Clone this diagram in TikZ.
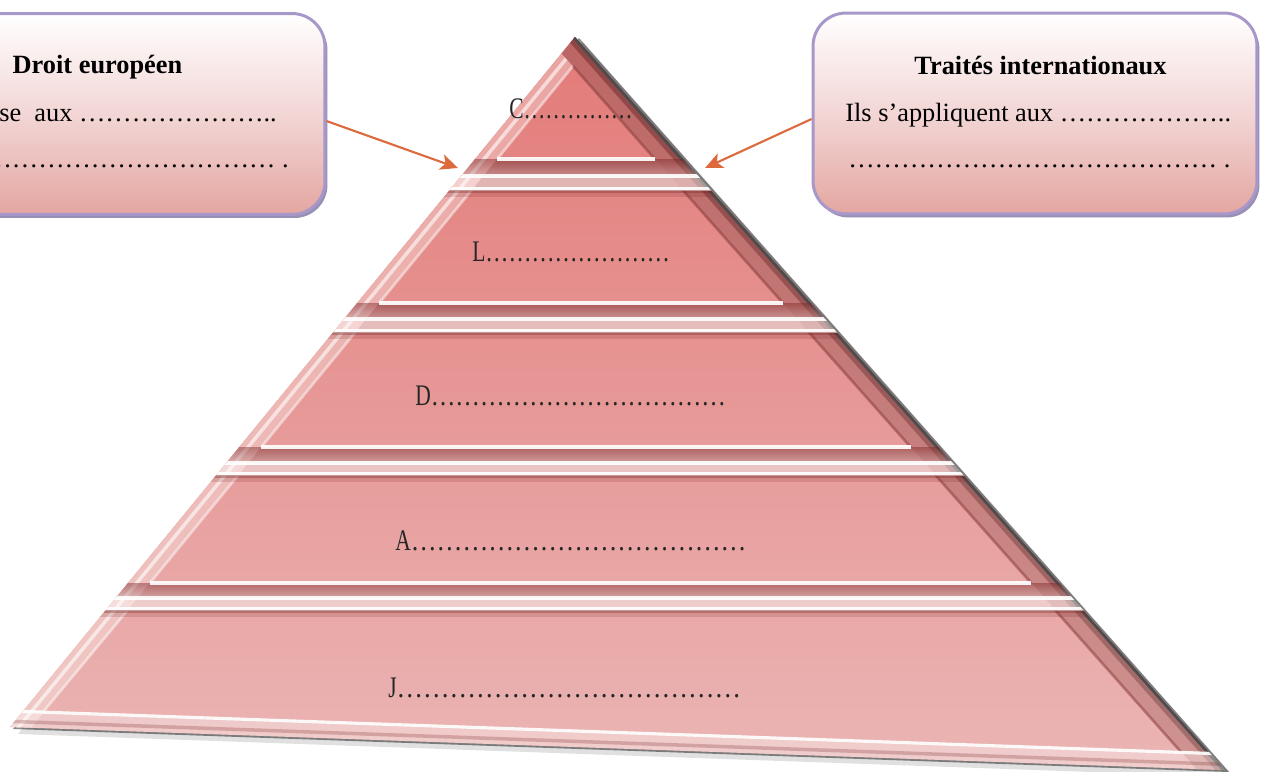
\documentclass[tikz,border=0pt]{standalone}
\usepackage{fontspec}
\setmainfont{Liberation Serif}
\usepackage{graphicx}
\usetikzlibrary{arrows.meta,shadows,calc}
\definecolor{arrowc}{HTML}{DC6A3C}
\definecolor{boxborder}{HTML}{A898C9}
\definecolor{boxshadow}{HTML}{9790B4}
\definecolor{boxbottom}{HTML}{E4A6A1}
\definecolor{boxmid}{HTML}{F2D6D5}
\definecolor{facetop}{HTML}{E37D7B}
\definecolor{facebot}{HTML}{EAB4B3}
\definecolor{lbevtop}{HTML}{EAA3A0}
\definecolor{lbevbot}{HTML}{F0CDCA}
\definecolor{rbevtop}{HTML}{BC6664}
\definecolor{rbevbot}{HTML}{CF9593}
\definecolor{rdarktop}{HTML}{914545}
\definecolor{rdarkbot}{HTML}{A5716F}
\definecolor{moulddark}{HTML}{7A2424}
\definecolor{facerim}{HTML}{8A3C3C}
\newcommand\ellip[1]{\foreach \k in {1,...,#1}{…}}
\newcommand\pyrlabel[4]{\scalebox{.72}[1]{\fontsize{17}{17}\selectfont #1}\resizebox{#2}{\height}{\fontsize{17}{17}\selectfont\ellip{#3}#4}}
\tikzset{
  boxstyle/.style={draw=boxborder, line width=1.7pt, rounded corners=0.66cm,
    top color=white, bottom color=boxbottom, middle color=boxmid,
    drop shadow={shadow xshift=0.05cm, shadow yshift=-0.07cm, fill=boxshadow, opacity=1},
    minimum height=4.02cm, inner sep=0pt},
  boxtext/.style={inner sep=0pt, font=\fontsize{15}{18}\selectfont, text=black},
  boxtitle/.style={inner sep=0pt, font=\fontsize{15}{18}\selectfont\bfseries, text=black},
  pyrtext/.style={inner sep=0pt, anchor=base west, text=black!85},
  pointer/.style={arrowc, line width=1.2pt, -{Stealth[length=10pt,width=9pt,inset=2.5pt]}},
  whiteline/.style={white, opacity=.92, line width=1.8pt},
  rimlight/.style={white, opacity=.5, line width=1.5pt},
  rimdark/.style={facerim, opacity=.55, line width=1.5pt},
}
\begin{document}
\begin{tikzpicture}[x=0.02cm,y=-0.02cm]
\useasboundingbox (0,0) rectangle (1263,771);
\clip (0,0) rectangle (1263,771);
\fill[white] (0,0) rectangle (1263,771);

\coordinate (P0) at (575,37);
\coordinate (P1) at (10,727);
\coordinate (P2) at (1225,770);

% shadow of the pyramid
\fill[black, opacity=.12] (583,42) -- (18,734) -- (1234,777) -- cycle;
\fill[black, opacity=.45] (579,38) -- (13,729) -- (1229,772) -- cycle;

\begin{scope}
\clip (P0) -- (P1) -- (P2) -- cycle;
\shade[top color=facetop!85!black, bottom color=facebot] (0,37) rectangle (1263,771);
% left bevel
\shade[top color=lbevtop, bottom color=lbevbot] (575,37) -- (-50,800) -- (-28,800) -- (597,37) -- cycle;
\draw[white, opacity=.6, line width=2pt] (584,37) -- (-41,800);
% right bevel
\shade[top color=rbevtop, bottom color=rbevbot] (575,37) -- (1252,800) -- (1224,800) -- (547,37) -- cycle;
\shade[top color=rdarktop, bottom color=rdarkbot] (575,37) -- (1252,800) -- (1242,800) -- (565,37) -- cycle;
\draw[black!70, line width=3pt] (P0) -- (P2);
% faces
\shade[top color=facetop, bottom color=facebot]
  (573,66) -- (498,158) -- (654,158) -- cycle
  (471.7,190) -- (379.2,303) -- (782.9,303) -- (682.7,190) -- cycle
  (355.5,332) -- (261.3,447) -- (910.6,447) -- (808.6,332) -- cycle
  (239.2,474) -- (149.9,583) -- (1031.2,583) -- (934.5,474) -- cycle
  (128.6,609) -- (43,712) -- (1181,752) -- (1054.2,609) -- cycle;
\draw[rimlight] (573,66) -- (498,158) (471.7,190) -- (379.2,303) (355.5,332) -- (261.3,447)
  (239.2,474) -- (149.9,583) (128.6,609) -- (43,712);
\draw[rimdark] (573,66) -- (654,158) (682.7,190) -- (782.9,303) (808.6,332) -- (910.6,447)
  (934.5,474) -- (1031.2,583) (1054.2,609) -- (1181,752);
% mouldings between the levels
\foreach \wa/\wb/\wc/\la/\ra in {159/176/189/497/655, 303/319/331/379/783, 447/463/474/261/911, 583/598/609/150/1031}{
  \shade[top color=moulddark, bottom color=moulddark!40!white, opacity=.45] (0,\wa) rectangle (1263,\wb);
  \fill[white, opacity=.45] (0,\wb) rectangle (1263,\wc);
  \draw[whiteline] (\la,\wa) -- (\ra,\wa);
  \draw[whiteline] (0,\wb) -- (1263,\wb);
  \draw[whiteline] (0,\wc) -- (1263,\wc);
  \fill[moulddark, opacity=.45] (0,\wc+1) rectangle (1263,\wc+4);
  \fill[moulddark, opacity=.18] (0,\wc+4) rectangle (1263,\wc+8);
}
% bottom moulding
\fill[white, opacity=.35] (0,711.6) -- (1263,756.3) -- (1263,800) -- (0,800) -- cycle;
\draw[whiteline] (0,710.6) -- (1263,755.3);
\draw[moulddark, opacity=.25, line width=2pt] (0,721) -- (1263,765.7);
\end{scope}

% pyramid labels
\node[pyrtext] (labC) at (509,118) {\pyrlabel{C}{62pt}{5}{}};
\node[pyrtext] (labL) at (472,261) {\pyrlabel{L}{105pt}{8}{}};
\node[pyrtext] (labD) at (415,405) {\pyrlabel{D}{168pt}{12}{}};
\node[pyrtext] (labA) at (395,550) {\pyrlabel{A}{191pt}{13}{}};
\node[pyrtext] (labJ) at (388,697) {\pyrlabel{J}{196pt}{13}{}};

% boxes
\node[boxstyle, minimum width=7.3cm] (lbox) at (142.5,114) {};
\node[boxstyle, minimum width=8.88cm] (rbox) at (1035,113.5) {};

\node[boxtitle, anchor=base] (ltitle) at (97.5,73) {Droit européen};
\node[boxtext, anchor=base west] (ltext1) at (-1,121) {se\ \ aux \ellip{7}..};
\node[boxtext, anchor=base east] (ltext2) at (289,167) {\ellip{14}\ .};
\node[boxtitle, anchor=base] (rtitle) at (1040.5,74) {Traités internationaux};
\node[boxtext, anchor=base west] (rtext1) at (845,121) {Ils s’appliquent aux \ellip{6}..};
\node[boxtext, anchor=base west] (rtext2) at (848,167) {\ellip{14}\ .};

% arrows
\coordinate (tipL) at (458,168);
\coordinate (tipR) at (705,168);
\draw[pointer] ([yshift=-0.14cm]lbox.east) -- (tipL);
\draw[pointer] ([yshift=-0.11cm]rbox.west) -- (tipR);
\end{tikzpicture}
\end{document}
